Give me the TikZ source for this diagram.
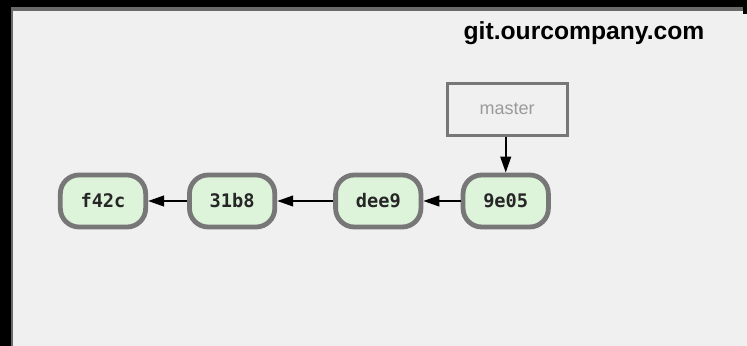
\documentclass[tikz,border=0pt]{standalone}
\usepackage{fontspec}
\setmainfont{Liberation Sans}
\newfontfamily\commitfont{DejaVu Sans Mono}
\usetikzlibrary{positioning,arrows.meta}

\definecolor{bgcolor}{HTML}{F0F0F0}
\definecolor{framegray}{HTML}{6A6A6A}
\definecolor{commitfill}{HTML}{DDF4DA}
\definecolor{commitborder}{HTML}{777777}
\definecolor{branchtext}{HTML}{9A9A9A}

\tikzset{
  commit/.style={draw=commitborder, line width=3.6pt, fill=commitfill, rounded corners=14pt,
    minimum width=64pt, minimum height=39pt, inner sep=0pt,
    font=\commitfont\bfseries\fontsize{14}{16}\selectfont, text=black!85},
  branch/.style={draw=commitborder, line width=2.2pt, fill=bgcolor,
    minimum width=90pt, minimum height=39pt, inner sep=0pt,
    font=\fontsize{13.5}{16}\selectfont, text=branchtext},
  parent/.style={line width=1.5pt, -{Triangle[length=12pt,width=8pt]}}
}

\begin{document}
\begin{tikzpicture}[x=0.75pt,y=-0.75pt]  % 1 单位 = 1 像素, y 向下
                % 背景和边框
                \useasboundingbox (0,0) rectangle (747,346);
                \fill[black] (0,0) rectangle (747,346);
                \fill[framegray] (11,7) rectangle (747,346);
                \fill[bgcolor] (13,11) rectangle (747,346);
                \fill[black] (743,0) rectangle (747,14);

                % 服务器名
                \node[font=\bfseries\fontsize{18.5}{20}\selectfont] (server) at (584,33) {git.ourcompany.com};

                % 提交
                \node[commit] (f42c) at (103,201) {f42c};
                \node[commit, right=29.25pt of f42c] (31b8) {31b8};
                \node[commit, right=42pt of 31b8] (dee9) {dee9};
                \node[commit, right=28pt of dee9] (9e05) {9e05};

                % 分支
                \node[branch, above=27pt of 9e05, xshift=1pt] (master) {master};

                % 父提交箭头
                \draw[parent] (31b8) -- (f42c);
                \draw[parent] (dee9) -- (31b8);
                \draw[parent] (9e05) -- (dee9);
                \draw[parent] (master.south -| 9e05.north) -- (9e05);
            \end{tikzpicture}
\end{document}
